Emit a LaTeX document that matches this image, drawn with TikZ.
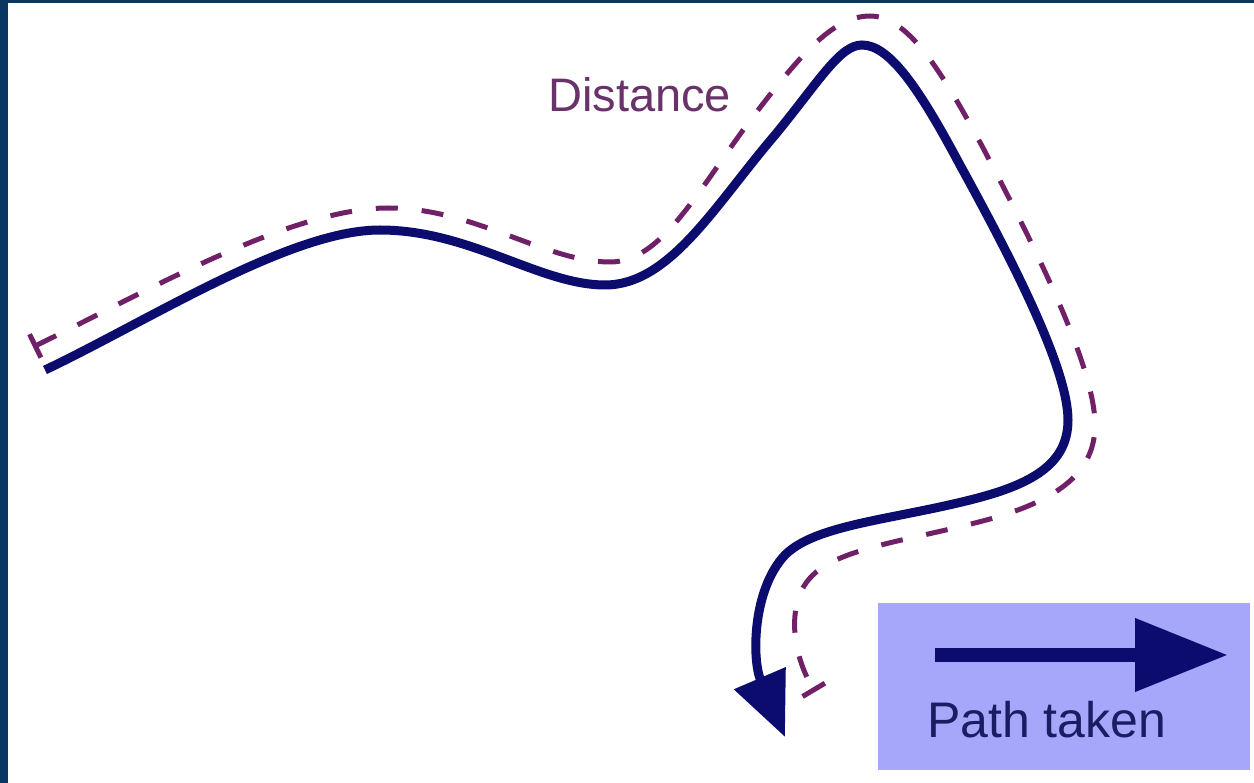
\documentclass[tikz,border=0pt]{standalone}
\usepackage{fontspec}
\setmainfont{Liberation Sans}
\usetikzlibrary{arrows.meta}
\definecolor{frameblue}{RGB}{8,56,98}
\definecolor{pathnavy}{RGB}{12,12,110}
\definecolor{distpurple}{RGB}{112,32,102}
\definecolor{disttext}{RGB}{105,50,105}
\definecolor{legendfill}{RGB}{166,166,250}
\definecolor{legendtext}{RGB}{28,28,100}
\begin{document}
\begin{tikzpicture}[x=1pt,y=-1pt,
  taken/.style={draw=pathnavy,line width=9pt},
  distline/.style={draw=distpurple,line width=5pt,dash pattern=on 22pt off 24pt},
  lbl/.style={inner sep=0pt,anchor=base west}]
\useasboundingbox (0,0) rectangle (1254,783);
\fill[frameblue] (0,0) rectangle (1254,783);
\fill[white] (8,3) rectangle (1254,783);
% distance (dashed)
\draw[distline,{Bar[width=26pt]}-{Bar[width=26pt]}]
  (33,347) .. controls (140,295) and (290,208) .. (388,208)
  .. controls (475,208) and (545,262) .. (610,262)
  .. controls (662,262) and (698,190) .. (752,118)
  .. controls (798,58) and (832,16) .. (870,16)
  .. controls (907,16) and (940,68) .. (982,146)
  .. controls (1042,260) and (1095,370) .. (1095,425)
  .. controls (1095,477) and (1050,502) .. (990,519)
  .. controls (910,541) and (838,547) .. (810,578)
  .. controls (788,602) and (790,650) .. (815,692);
% path taken (solid)
\draw[taken,-{Triangle[length=64pt,width=54pt]}]
  (45,370) .. controls (150,320) and (290,230) .. (380,230)
  .. controls (470,230) and (540,285) .. (605,285)
  .. controls (670,285) and (715,205) .. (775,135)
  .. controls (820,80) and (840,45) .. (862,45)
  .. controls (890,45) and (920,90) .. (960,165)
  .. controls (1015,265) and (1068,370) .. (1068,420)
  .. controls (1068,465) and (1030,485) .. (970,500)
  .. controls (890,520) and (815,525) .. (785,555)
  .. controls (752,590) and (752,660) .. (785,737);
\node[lbl,text=disttext,font=\fontsize{47}{56}\selectfont] (distlabel) at (548,112) {Distance};
% legend
\node[fill=legendfill,minimum width=372pt,minimum height=167pt,inner sep=0pt,anchor=north west] (legend) at (878,603) {};
\coordinate (legA) at (935,655);
\coordinate (legB) at (1228,655);
\draw[pathnavy,line width=14pt,-{Triangle[length=93pt,width=70pt]}] (legA) -- (legB);
\node[lbl,text=legendtext,font=\fontsize{50}{60}\selectfont] (legendlabel) at (927,737) {Path taken};
\end{tikzpicture}
\end{document}
